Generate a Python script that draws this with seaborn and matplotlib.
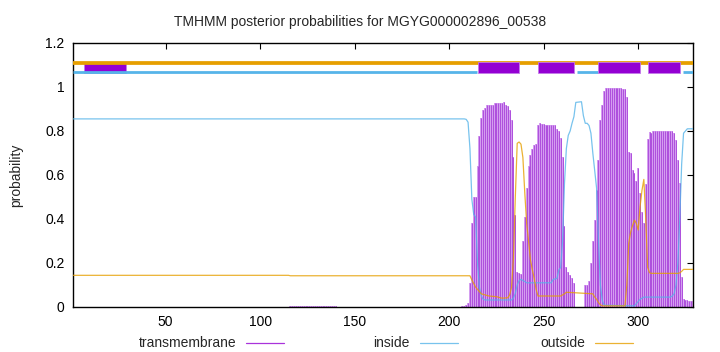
import matplotlib
matplotlib.use("Agg")
import matplotlib.pyplot as plt
import seaborn as sns
import pandas as pd
from matplotlib.patches import Rectangle
from matplotlib.lines import Line2D

# ---------------- data ----------------
title = "TMHMM posterior probabilities for MGYG000002896_00538"
seq_len = 329
x_ticks = [50, 100, 150, 200, 250, 300]
y_ticks = [0, 0.2, 0.4, 0.6, 0.8, 1.0, 1.2]
y_tick_labels = ["0", "0.2", "0.4", "0.6", "0.8", "1", "1.2"]
legend_labels = ["transmembrane", "inside", "outside"]

# transmembrane posterior (impulses)
tm_low_pos = list(range(116, 141))
tm_low_val = [0.003, 0.004, 0.004, 0.004, 0.004, 0.004, 0.004, 0.004, 0.004,
              0.004, 0.004, 0.004, 0.004, 0.004, 0.004, 0.004, 0.004, 0.004,
              0.004, 0.004, 0.004, 0.004, 0.004, 0.003, 0.003]
tm_pos = list(range(205, 330))
tm_val = [
    0.0, 0.002, 0.004, 0.006, 0.01,            # 205-209
    0.02, 0.107, 0.38, 0.50, 0.50,             # 210-214
    0.64, 0.777, 0.86, 0.895, 0.905,           # 215-219
    0.918, 0.918, 0.918, 0.92, 0.926,          # 220-224
    0.926, 0.927, 0.928, 0.928, 0.93,          # 225-229
    0.92, 0.912, 0.895, 0.85, 0.68,            # 230-234
    0.42, 0.16, 0.155, 0.15, 0.30,             # 235-239
    0.41, 0.54, 0.64, 0.69, 0.72,              # 240-244
    0.735, 0.74, 0.827, 0.835, 0.833,          # 245-249
    0.83, 0.828, 0.828, 0.828, 0.827,          # 250-254
    0.827, 0.826, 0.81, 0.80, 0.77,            # 255-259
    0.68, 0.37, 0.18, 0.16, 0.145,             # 260-264
    0.13, 0.11, 0.0, 0.0, 0.0,                 # 265-269
    0.0, 0.0, 0.10, 0.10, 0.12,                # 270-274
    0.20, 0.30, 0.395, 0.53, 0.668,            # 275-279
    0.85, 0.918, 0.98, 0.994, 0.995,           # 280-284
    0.995, 0.995, 0.995, 0.995, 0.995,         # 285-289
    0.994, 0.994, 0.993, 0.99, 0.956,          # 290-294
    0.706, 0.70, 0.623, 0.61, 0.575,           # 295-299
    0.63, 0.52, 0.43, 0.38, 0.56,              # 300-304
    0.762, 0.797, 0.79, 0.80, 0.80,            # 305-309
    0.80, 0.80, 0.80, 0.80, 0.80,              # 310-314
    0.80, 0.80, 0.80, 0.80, 0.79,              # 315-319
    0.76, 0.668, 0.562, 0.138, 0.035,          # 320-324
    0.03, 0.03, 0.028, 0.028, 0.027,           # 325-329
]

# inside posterior (line breakpoints)
inside_x = [1, 208, 209, 210, 211, 212, 213, 214, 215, 216, 217, 218, 219,
            233, 234, 235, 236, 237, 238, 239, 240, 241, 254, 255, 257, 258,
            259, 260, 261, 262, 263, 264, 265, 266, 267, 270, 271, 272, 273,
            274, 275, 276, 277, 278, 279, 280, 281, 282, 298, 299, 300, 301,
            302, 303, 317, 318, 319, 320, 321, 322, 323, 324, 325, 326, 329]
inside_y = [0.855, 0.855, 0.853, 0.84, 0.72, 0.49, 0.42, 0.41, 0.2, 0.09,
            0.05, 0.035, 0.032, 0.032, 0.04, 0.062, 0.1, 0.12, 0.126, 0.12,
            0.116, 0.11, 0.11, 0.125, 0.13, 0.168, 0.18, 0.30, 0.56, 0.72,
            0.78, 0.80, 0.835, 0.865, 0.93, 0.933, 0.87, 0.835, 0.835, 0.825,
            0.79, 0.70, 0.62, 0.54, 0.30, 0.10, 0.03, 0.008, 0.005, 0.015,
            0.025, 0.035, 0.04, 0.045, 0.045, 0.05, 0.06, 0.10, 0.20, 0.40,
            0.65, 0.79, 0.80, 0.81, 0.81]

# outside posterior (line breakpoints)
outside_x = [1, 115, 116, 208, 211, 212, 214, 216, 217, 221, 225, 228, 231,
             232, 233, 234, 235, 236, 237, 238, 239, 240, 241, 242, 243, 244,
             245, 246, 247, 259, 261, 262, 276, 277, 278, 279, 280, 281, 293,
             294, 295, 296, 297, 298, 299, 300, 301, 302, 303, 304, 305, 306,
             307, 321, 322, 323, 324, 329]
outside_y = [0.144, 0.144, 0.142, 0.142, 0.142, 0.123, 0.09, 0.07, 0.06,
             0.05, 0.047, 0.04, 0.042, 0.055, 0.09, 0.22, 0.50, 0.744, 0.75,
             0.74, 0.68, 0.52, 0.38, 0.30, 0.214, 0.17, 0.13, 0.08, 0.05,
             0.05, 0.06, 0.067, 0.06, 0.045, 0.035, 0.02, 0.01, 0.005, 0.005,
             0.10, 0.29, 0.34, 0.37, 0.395, 0.38, 0.35, 0.456, 0.53, 0.58,
             0.40, 0.18, 0.156, 0.153, 0.153, 0.155, 0.162, 0.171, 0.171]

# topology annotation on top
tm_box_start = [7, 215, 247, 279, 305]
tm_box_end = [29, 237, 266, 301, 322]
inside_seg_start = [1, 267.5, 323.5]
inside_seg_end = [214.5, 278.5, 329]
outside_seg_start = [1]
outside_seg_end = [329]

# ---------------- style ----------------
sns.set_style("white")
plt.rcParams["font.family"] = ["Liberation Sans", "DejaVu Sans"]
plt.rcParams["font.size"] = 10

C_TM = "#9400D3"
C_TM_LIGHT = "#d39cf0"
C_IN = "#56B4E9"
C_OUT = "#E69F00"

fig = plt.figure(figsize=(7.2, 3.52), dpi=100)
ax = fig.add_axes([73 / 720, 1 - 307 / 352, 620 / 720, 264 / 352])

# impulses: light fill behind, darker strokes on top
for pos, val in ((tm_low_pos, tm_low_val), (tm_pos, tm_val)):
    ax.vlines(pos, 0, val, color=C_TM_LIGHT, lw=1.4, zorder=1.5)
    ax.vlines(pos, 0, val, color="#a43ad8", lw=0.55, zorder=2)

df_in = pd.DataFrame({"x": inside_x, "y": inside_y})
df_out = pd.DataFrame({"x": outside_x, "y": outside_y})
sns.lineplot(data=df_in, x="x", y="y", ax=ax, color=C_IN, lw=0.9,
             estimator=None, sort=False, zorder=3, alpha=0.8)
sns.lineplot(data=df_out, x="x", y="y", ax=ax, color=C_OUT, lw=0.9,
             estimator=None, sort=False, zorder=3, alpha=0.8)

# top topology bars
for i, (s, e) in enumerate(zip(tm_box_start, tm_box_end)):
    ax.add_patch(Rectangle((s, 1.062), e - s, 0.05, facecolor=C_TM,
                           edgecolor="#c27be8", lw=0.6,
                           zorder=2.5 if i == 0 else 5))
ax.hlines([1.107] * len(outside_seg_start), outside_seg_start, outside_seg_end,
          color=C_OUT, lw=2.7, zorder=4)
ax.hlines([1.068] * len(inside_seg_start), inside_seg_start, inside_seg_end,
          color=C_IN, lw=2.0, zorder=4)

ax.set_xlim(1, seq_len)
ax.set_ylim(0, 1.2)
ax.set_xticks(x_ticks)
ax.set_xticklabels([str(t) for t in x_ticks])
ax.set_yticks(y_ticks)
ax.set_yticklabels(y_tick_labels)
ax.set_xlabel("")
ax.set_ylabel("")
ax.tick_params(direction="in", length=4, width=0.8, top=True, right=True,
               colors="black", labelsize=10)
ax.tick_params(axis="x", pad=6)
ax.tick_params(axis="y", pad=6)
for sp in ax.spines.values():
    sp.set_color("black")
    sp.set_linewidth(1.0)
    sp.set_visible(True)

fig.text(0.5, 1 - 22 / 352, title, ha="center", va="center", fontsize=10)
fig.text(16 / 720, 1 - 175 / 352, "probability", ha="center", va="center",
         rotation=90, fontsize=10)

# gnuplot-style legend at the bottom
leg_colors = [C_TM, C_IN, C_OUT]
leg_text_right = [236, 410, 585]
ly = 1 - 343 / 352
for lab, col, xr in zip(legend_labels, leg_colors, leg_text_right):
    fig.text(xr / 720, ly, lab, ha="right", va="center", fontsize=10)
    fig.add_artist(Line2D([(xr + 10) / 720, (xr + 48) / 720], [ly, ly],
                          color=col, lw=0.9, alpha=0.8))

fig.savefig("out.png", dpi=100)
